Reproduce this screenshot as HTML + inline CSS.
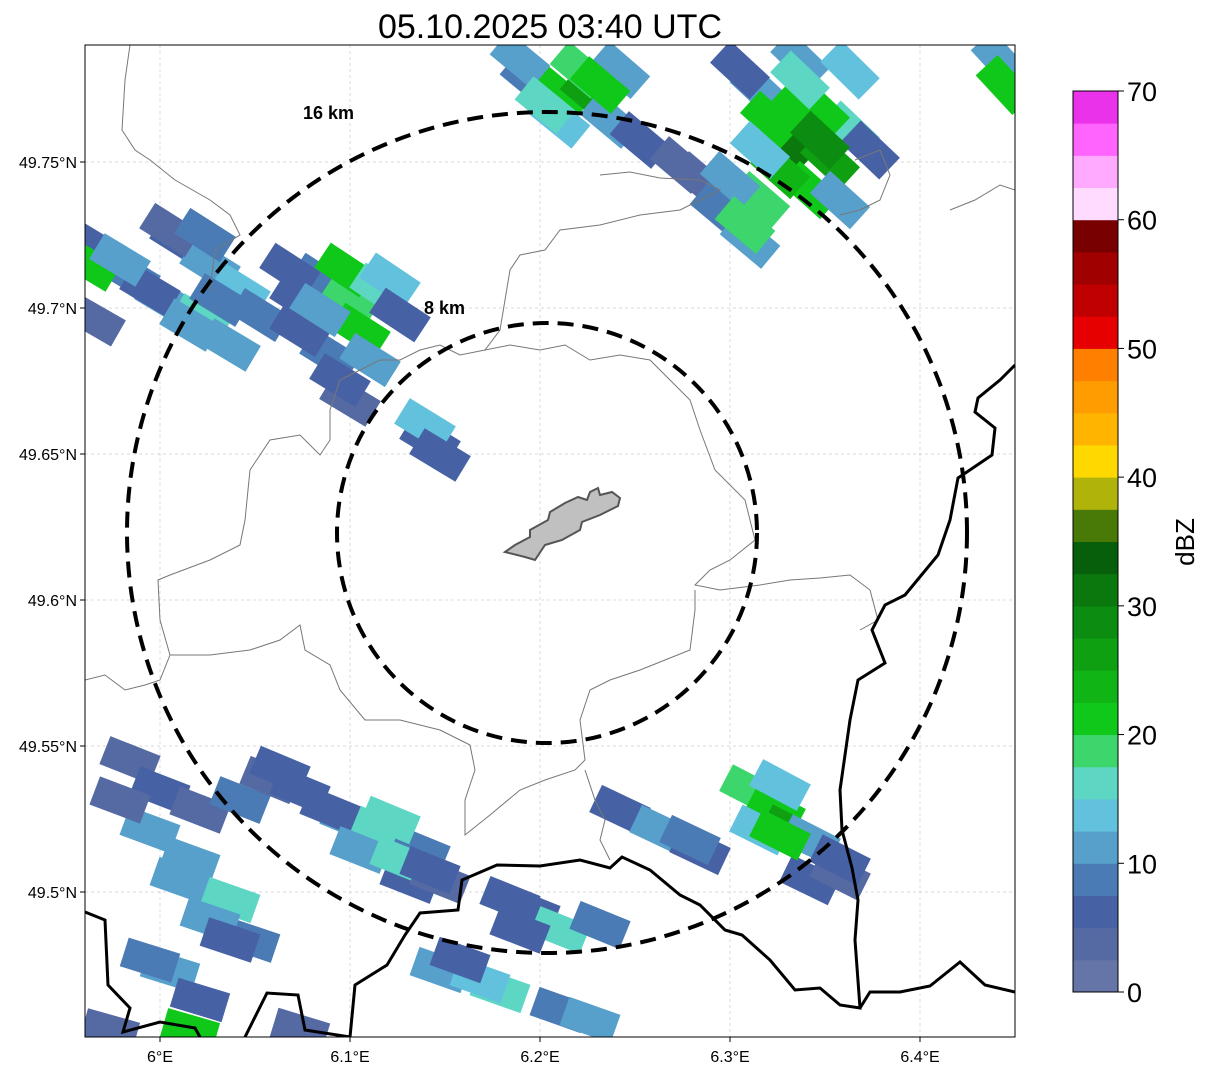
<!DOCTYPE html>
<html><head><meta charset="utf-8"><style>
body{margin:0;background:#fff;font-family:"Liberation Sans","DejaVu Sans",sans-serif}
svg text{font-family:"Liberation Sans","DejaVu Sans",sans-serif}
</style></head><body>
<svg id="fig" width="1207" height="1073" viewBox="0 0 1207 1073">
<text x="550" y="38" font-size="34" text-anchor="middle">05.10.2025 03:40 UTC</text>
<defs><clipPath id="mapclip"><rect x="85" y="45" width="930" height="992"/></clipPath></defs>
<g clip-path="url(#mapclip)">
<g id="grid"></g>
<g id="cells"></g>
<g fill="none" stroke="#777" stroke-width="1">
<path d="M130,45 L125,80 L122,130 L135,150 L150,160 L175,180 L210,200 L230,215 L240,235 L215,250 L210,290"/>
<path d="M600,175 L630,172 L660,178 L700,180 L720,190 L700,200 L680,210 L640,215 L600,225 L560,230 L545,250 L520,255 L510,270 L505,300 L500,330 L485,350 L510,345 L540,350 L565,345 L590,360 L620,355 L650,360 L670,380 L690,400 L700,430 L715,470 L745,500 L755,540 L730,560 L710,570 L695,585 L720,590 L760,585 L790,580 L820,578 L850,575 L870,590 L878,620 L860,630"/>
<path d="M485,350 L460,355 L440,345 L420,350 L400,360 L380,360 L360,370 L340,380 L330,410 L330,440 L320,455 L300,435 L270,440 L250,470 L245,520 L240,545 L210,560 L170,575 L158,580 L160,620 L170,655 L210,655 L250,650 L280,640 L300,625 L305,650 L330,665 L340,690 L365,720 L400,720 L440,730 L470,745 L475,770 L465,800 L465,835 L490,815 L520,790 L545,780 L575,770 L585,760 L580,720 L590,690 L610,680 L640,670 L665,660 L690,650 L695,610 L695,590"/>
<path d="M85,680 L105,675 L125,690 L145,685 L160,680 L170,655"/>
<path d="M585,770 L595,800 L605,820 L600,840 L610,860"/>
<path d="M855,160 L880,150 L890,175 L880,200 L860,210 L840,215"/>
<path d="M950,210 L975,200 L1000,185 L1015,190"/>
</g>
<path d="M505,552 L515,545 L530,537 L530,530 L548,520 L550,512 L565,503 L578,497 L587,500 L590,492 L598,488 L600,495 L612,492 L620,498 L618,506 L600,515 L582,522 L580,530 L562,540 L545,545 L535,560 L525,557 Z" fill="#c0c0c0" stroke="#555" stroke-width="2"/>
<g fill="none" stroke="#000" stroke-width="3">
<path d="M1015,365 L1000,380 L978,398 L975,412 L995,428 L992,455 L958,478 L950,520 L938,555 L905,595 L885,605 L872,630 L885,663 L858,680 L850,720 L840,790 L842,830 L852,868 L858,900 L855,940 L860,1008 L840,1005 L820,988 L795,990 L770,960 L742,935 L725,930 L700,905 L680,895 L650,870 L622,857 L610,868 L580,860 L540,866 L497,865 L462,880 L458,910 L420,913 L405,935 L387,965 L355,985 L350,1037"/>
<path d="M860,1008 L870,992 L900,992 L930,986 L960,962 L985,985 L1015,992"/>
<path d="M85,912 L105,920 L108,985 L130,1008 L123,1032 L160,1022 L195,1028 L200,1037"/>
<path d="M245,1037 L267,993 L298,995 L305,1030 L350,1037"/>
</g>
<g fill="none" stroke="#000" stroke-width="4" stroke-dasharray="16,9">
<ellipse cx="547" cy="532.5" rx="420" ry="420.5"/>
<ellipse cx="547" cy="533" rx="210" ry="210"/>
</g>
<text x="303" y="119" font-size="18" font-weight="bold">16 km</text>
<text x="424" y="314" font-size="18" font-weight="bold">8 km</text>
</g>
<rect x="85" y="45" width="930" height="992" fill="none" stroke="#000" stroke-width="1"/>
<g id="axes"></g>
<g id="cbar"></g>
<text transform="translate(1194,542) rotate(-90)" font-size="26" text-anchor="middle">dBZ</text>
</svg>
<script>
const lonTicks=[6.0,6.1,6.2,6.3,6.4];
const lonTickLabels=["6°E","6.1°E","6.2°E","6.3°E","6.4°E"];
const latTicks=[49.75,49.7,49.65,49.6,49.55,49.5];
const latTickLabels=["49.75°N","49.7°N","49.65°N","49.6°N","49.55°N","49.5°N"];
const cbarTicks=[0,10,20,30,40,50,60,70];
const levelColors=["#6675a8","#5569a3","#4662a5","#4b7bb5","#57a0cb","#62c2de","#5dd6c4","#3dd66c","#10c81a","#10b414","#0ea011","#0c8c10","#0a780c","#075f0b","#497a08","#b0b40a","#ffd800","#ffb400","#ff9c00","#ff7f00","#e60000","#c00000","#a00000","#780000","#ffdcff","#ffaaff","#ff64ff","#eb32eb"];
// radar echo cells (pixel estimates converted to lon/lat)
const cellPx=[[100,250,5],[130,275,8],[165,300,12],[200,320,15],[230,345,12],[180,240,5],[210,265,10],[240,290,14],[260,315,8],[150,290,5],[300,300,5],[320,280,8],[350,300,19],[360,330,22],[345,270,20],[380,290,15],[330,355,8],[370,360,10],[350,400,3],[390,280,14],[95,320,3],[90,265,20],[170,230,4],[190,325,12],[290,270,6],[400,315,6],[120,260,12],[220,300,9],[300,330,6],[340,380,5],[205,235,8],[320,310,12],
[530,80,8],[560,95,20],[590,95,25],[610,120,12],[640,140,5],[680,165,3],[520,60,12],[620,70,10],[560,120,14],[580,70,18],[700,180,4],[545,105,16],[600,85,22],
[760,90,10],[800,110,20],[790,140,30],[830,160,25],[810,190,22],[760,200,18],[720,210,8],[750,240,12],[850,130,15],[840,200,10],[870,150,5],[800,60,12],[850,70,14],[740,70,5],[1000,60,12],[1005,85,20],[780,170,24],[820,110,22],[730,180,10],[770,120,22],[800,80,16],[820,140,28],[745,225,18],[760,150,14],
[430,440,5],[425,425,13],[440,455,7],
[130,760,3],[160,790,5],[200,810,3],[240,800,8],[270,780,3],[300,790,5],[350,820,12],[380,830,15],[420,850,8],[410,880,5],[150,830,10],[190,860,12],[230,900,17],[250,940,8],[170,970,12],[200,1000,5],[110,1030,3],[190,1030,22],[300,1030,3],[280,770,7],[330,810,6],[360,850,10],[400,860,16],[440,880,4],[210,920,12],[120,800,4],[390,820,17],[430,870,6],[180,880,10],[230,940,6],[150,960,8],
[530,910,5],[560,930,17],[600,925,8],[440,970,12],[500,990,15],[560,1010,8],[590,1020,12],[480,980,14],[510,900,6],[520,930,6],[460,960,5],
[620,810,5],[660,830,12],[700,850,5],[750,790,18],[775,810,22],[790,830,25],[780,785,14],[810,840,12],[810,880,5],[840,875,3],[840,860,5],[760,830,14],[690,840,8],[780,835,22]];
const cellLon=cellPx.map(c=>6+(c[0]-160)/1900);
const cellLat=cellPx.map(c=>49.75-(c[1]-162)/2920);
const cellDbz=cellPx.map(c=>c[2]);

const NS="http://www.w3.org/2000/svg";
function X(lon){return 160+(lon-6.0)*1900;}
function Y(lat){return 162+(49.75-lat)*2920;}
function CY(v){return 992-v*(901/70);}
function mk(tag,attrs,parent){const e=document.createElementNS(NS,tag);for(const k in attrs)e.setAttribute(k,attrs[k]);parent.appendChild(e);return e;}
const grid=document.getElementById('grid'),axes=document.getElementById('axes'),cells=document.getElementById('cells'),cbar=document.getElementById('cbar');
lonTicks.forEach((t,i)=>{
 const l=mk('line',{x1:X(t),x2:X(t),y1:45,y2:1037,stroke:'#ccc','stroke-width':0.7,'stroke-dasharray':'3,3'},grid);
 
 
 mk('line',{x1:X(t),x2:X(t),y1:1037,y2:1042,stroke:'#000'},axes);
 const tx=mk('text',{x:X(t),y:1062,'font-size':16,'text-anchor':'middle'},axes);tx.textContent=lonTickLabels[i];
 
 
});
latTicks.forEach((t,i)=>{
 const l=mk('line',{x1:85,x2:1015,y1:Y(t),y2:Y(t),stroke:'#ccc','stroke-width':0.7,'stroke-dasharray':'3,3'},grid);
 
 
 mk('line',{x1:80,x2:85,y1:Y(t),y2:Y(t),stroke:'#000'},axes);
 const tx=mk('text',{x:77,y:Y(t)+6,'font-size':16,'text-anchor':'end'},axes);tx.textContent=latTickLabels[i];
 
 
});
cellLon.forEach((lon,i)=>{
 const x=X(lon),y=Y(cellLat[i]);
 const ang=Math.atan2(1700-y,2500-x)*180/Math.PI;
 const idx=Math.max(0,Math.min(27,Math.floor(cellDbz[i]/2.5)));
 const r=mk('rect',{x:x-27,y:y-15,width:54,height:30,fill:levelColors[idx],transform:`rotate(${ang} ${x} ${y})`},cells);
 
 
});
levelColors.forEach((c,i)=>{
 const r=mk('rect',{x:1073,y:CY((i+1)*2.5),width:45,height:CY(i*2.5)-CY((i+1)*2.5)+0.5,fill:c},cbar);
 
 
});
mk('rect',{x:1073,y:CY(70),width:45,height:CY(0)-CY(70),fill:'none',stroke:'#000','stroke-width':1},cbar);
cbarTicks.forEach(t=>{
 mk('line',{x1:1118,x2:1124,y1:CY(t),y2:CY(t),stroke:'#000'},cbar);
 const tx=mk('text',{x:1127,y:CY(t)+10,'font-size':27},cbar);tx.textContent=t;
 
 
});
</script>
</body></html>
